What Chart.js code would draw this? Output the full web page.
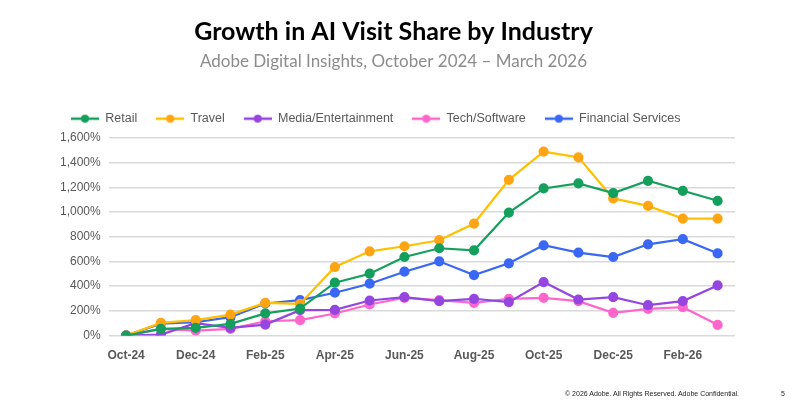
<!DOCTYPE html>
<html>
<head>
<meta charset="utf-8">
<script src="https://cdn.jsdelivr.net/npm/chart.js@4.4.1/dist/chart.umd.min.js"></script>
<style>
  html, body { margin: 0; padding: 0; background: #fff; }
  #wrap { position: relative; width: 799px; height: 411px; }
  #footer { position: absolute; left: 565px; top: 390px; font: 7px "Liberation Sans", sans-serif; color: #222; }
  #pageNo { position: absolute; left: 781px; top: 390px; font: 7px "Liberation Sans", sans-serif; color: #222; }
</style>
</head>
<body>
<div id="wrap">
  <canvas id="growthChart" width="799" height="411"></canvas>
  <div id="footer">© 2026 Adobe. All Rights Reserved. Adobe Confidential.</div>
  <div id="pageNo">5</div>
</div>
<script>
const months = ['Oct-24','Nov-24','Dec-24','Jan-25','Feb-25','Mar-25','Apr-25','May-25','Jun-25',
                'Jul-25','Aug-25','Sep-25','Oct-25','Nov-25','Dec-25','Jan-26','Feb-26','Mar-26'];
const retail    = [0, 55, 62, 95, 180, 219, 428, 501, 636, 707, 690, 996, 1191, 1232, 1153, 1253, 1172, 1091];
const travel    = [0, 103, 125, 170, 265, 257, 555, 682, 723, 772, 907, 1261, 1489, 1443, 1110, 1050, 947, 947];
const media     = [0, 8, 100, 62, 89, 206, 208, 284, 311, 279, 298, 271, 433, 292, 311, 246, 279, 406];
const tech      = [0, 54, 41, 54, 116, 125, 179, 252, 306, 287, 265, 298, 306, 279, 184, 217, 230, 87];
const financial = [0, 97, 108, 149, 260, 287, 347, 420, 517, 601, 490, 585, 731, 671, 636, 739, 780, 666];

const seriesNames = ['Retail', 'Travel', 'Media/Entertainment', 'Tech/Software', 'Financial Services'];
const lineColors  = ['#14a05c', '#ffc000', '#9546e0', '#ff66cc', '#3a68f5'];
const dotColors   = ['#14a05c', '#ffa514', '#9546e0', '#ff66cc', '#3a68f5'];

// small line+dot swatch for the legend
function swatch(lineCol, dotCol){
    const c = document.createElement('canvas');
    c.width = 28; c.height = 10;
    const g = c.getContext('2d');
    g.strokeStyle = lineCol;
    g.lineWidth = 2.5;
    g.beginPath(); g.moveTo(0, 5); g.lineTo(28, 5); g.stroke();
    g.fillStyle = dotCol;
    g.beginPath(); g.arc(14, 5, 4, 0, Math.PI * 2); g.fill();
    return c;
}

const allData = [retail, travel, media, tech, financial];
const datasets = allData.map(function(d, i){
    return {
        label: seriesNames[i],
        data: d,
        borderColor: lineColors[i],
        backgroundColor: dotColors[i],
        pointBackgroundColor: dotColors[i],
        pointBorderColor: dotColors[i],
        pointRadius: 4,
        pointHoverRadius: 4,
        borderWidth: 2.2,
        tension: 0,
        pointStyle: 'circle',
        legendStyle: swatch(lineColors[i], dotColors[i])
    };
});

// a bit more room under the legend
const legendGap = {
    id: 'legendGap',
    beforeInit: function(chart){
        const fit = chart.legend.fit;
        chart.legend.fit = function(){
            fit.bind(chart.legend)();
            this.height += 3;
        };
    }
};

const textGray = '#595959';
const ctx = document.getElementById('growthChart').getContext('2d');
new Chart(ctx, {
    type: 'line',
    data: { labels: months, datasets: datasets },
    plugins: [legendGap],
    options: {
        responsive: false,
        animation: false,
        layout: { padding: { left: 52, right: 64, top: 0, bottom: 35 } },
        plugins: {
            title: {
                display: true,
                text: 'Growth in AI Visit Share by Industry',
                color: '#000',
                font: { family: 'Lato', size: 25, weight: 'bold', lineHeight: 1.2 },
                padding: { top: 17, bottom: 0 }
            },
            subtitle: {
                display: true,
                text: 'Adobe Digital Insights, October 2024 – March 2026',
                color: '#8c8c8c',
                font: { family: 'Lato', size: 17, lineHeight: 1.2 },
                padding: { top: 4, bottom: 22 }
            },
            legend: {
                display: true,
                align: 'start',
                labels: {
                    usePointStyle: true,
                    pointStyleWidth: 28,
                    color: textGray,
                    padding: 19,
                    font: { family: 'Liberation Sans', size: 12.5 },
                    generateLabels: function(chart){
                        return chart.data.datasets.map(function(ds, i){
                            return {
                                text: ds.label,
                                pointStyle: ds.legendStyle,
                                fillStyle: ds.backgroundColor,
                                strokeStyle: ds.borderColor,
                                lineWidth: 0,
                                fontColor: textGray,
                                datasetIndex: i,
                                hidden: false
                            };
                        });
                    }
                }
            },
            tooltip: { enabled: false }
        },
        scales: {
            x: {
                offset: true,
                grid: { display: false, drawTicks: false },
                border: { display: false },
                ticks: {
                    autoSkip: false,
                    maxRotation: 0,
                    color: textGray,
                    padding: 13,
                    font: { family: 'Liberation Sans', size: 12, weight: 'bold' },
                    callback: function(v, i){ return i % 2 === 0 ? months[i] : ''; }
                }
            },
            y: {
                min: 0,
                max: 1600,
                grid: { color: '#d9d9d9', lineWidth: 1.5, drawTicks: false },
                border: { display: false },
                ticks: {
                    stepSize: 200,
                    color: textGray,
                    padding: 8,
                    font: { family: 'Liberation Sans', size: 12 },
                    callback: function(v){ return v.toLocaleString('en-US') + '%'; }
                }
            }
        }
    }
});
</script>
</body>
</html>
